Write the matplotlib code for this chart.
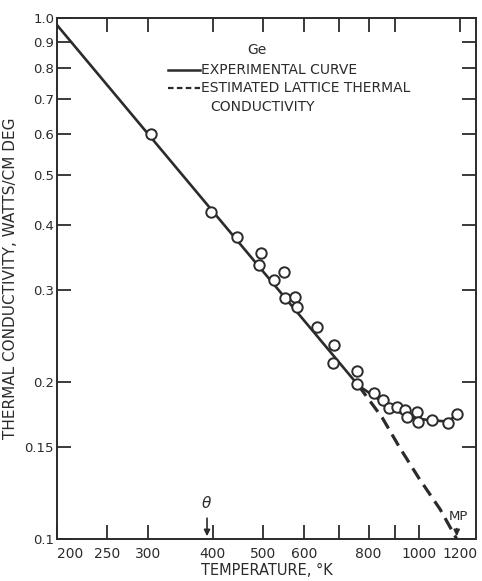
"""Ge thermal conductivity vs temperature (log-log)."""
import matplotlib
matplotlib.use("Agg")
import matplotlib.pyplot as plt
from matplotlib.ticker import FixedLocator, NullLocator

plt.rcParams["font.family"] = ["DejaVu Sans"]

# measured points (K, W/cm deg)
T_pts = [304, 397, 445, 495, 491, 549, 525, 551, 576, 581, 635, 685, 682,
         759, 759, 818, 852, 875, 906, 939, 948, 991, 995, 1059, 1137, 1184]
k_pts = [0.599, 0.424, 0.380, 0.354, 0.336, 0.325, 0.314, 0.290, 0.291, 0.279,
         0.255, 0.236, 0.218, 0.210, 0.198, 0.1906, 0.1848, 0.1784, 0.1796,
         0.177, 0.1714, 0.1753, 0.1677, 0.1692, 0.1668, 0.1735]

# experimental curve
T_exp = [200, 765, 820, 880, 950, 1000, 1060, 1140, 1184]
k_exp = [0.97, 0.197, 0.188, 0.179, 0.172, 0.170, 0.169, 0.168, 0.1735]

# estimated lattice thermal conductivity
T_lat = [765, 850, 918, 1000, 1100, 1184]
k_lat = [0.197, 0.171, 0.150, 0.131, 0.114, 0.100]

x_major = [200, 250, 300, 400, 500, 600, 800, 1000, 1200]
x_labels = ["200", "250", "300", "400", "500", "600", "800", "1000", "1200"]
x_minor = [700, 900]
x_top = [250, 300, 400, 500, 600, 700, 800, 900, 1200]
y_major = [0.1, 0.15, 0.2, 0.3, 0.4, 0.5, 0.6, 0.7, 0.8, 0.9, 1.0]
y_labels = ["0.1", "0.15", "0.2", "0.3", "0.4", "0.5", "0.6", "0.7", "0.8",
            "0.9", "1.0"]

theta_T = 390
mp_T = 1184

fig = plt.figure(figsize=(4.82, 5.81), dpi=100)
ax = fig.add_axes([0.118, 0.0723, 0.8695, 0.8967])
ax.set_xscale("log")
ax.set_yscale("log")
ax.set_xlim(200, 1290)
ax.set_ylim(0.1, 1.0)

ink = "#2b2b2b"
ax.plot(T_exp, k_exp, color=ink, lw=1.9, zorder=2)
ax.plot(T_lat, k_lat, color=ink, lw=2.3, ls=(0, (4, 2.2)), zorder=2)
ax.plot(T_pts, k_pts, "o", ms=7.5, mfc="white", mec=ink, mew=1.4, zorder=3)

for s in ax.spines.values():
    s.set_linewidth(1.4)
    s.set_color(ink)

ax.xaxis.set_major_locator(FixedLocator(x_major))
ax.xaxis.set_minor_locator(FixedLocator(x_minor))
ax.set_xticklabels(x_labels)
ax.xaxis.set_minor_formatter(plt.NullFormatter())
ax.yaxis.set_major_locator(FixedLocator(y_major))
ax.yaxis.set_minor_locator(NullLocator())
ax.set_yticklabels(y_labels)
ax.tick_params(which="both", direction="in", length=10, width=1.3,
               color=ink, labelcolor=ink)
ax.tick_params(axis="x", pad=6, labelsize=10)
ax.tick_params(axis="y", pad=2, right=True, labelsize=9.5)
# hide the 1200 bottom tick (MP arrow sits there)
ax.xaxis.get_major_ticks()[-1].tick1line.set_visible(False)
# nudge the 200 label right, clear of the 0.1 label
ax.get_xticklabels()[0].set_horizontalalignment("left")

# top ticks on their own axis
top = ax.secondary_xaxis("top")
top.xaxis.set_major_locator(FixedLocator(x_top))
top.xaxis.set_minor_locator(NullLocator())
top.tick_params(direction="in", length=10, width=1.3, color=ink,
                labeltop=False)
top.spines["top"].set_visible(False)

ax.set_xlabel("TEMPERATURE, °K", fontsize=10.5, color=ink, labelpad=1)
ax.set_ylabel("THERMAL CONDUCTIVITY, WATTS/CM DEG", fontsize=11,
              color=ink)
ax.yaxis.set_label_coords(-0.093, 0.5)

# key
ax.text(0.477, 0.939, "Ge", transform=ax.transAxes, fontsize=10,
        ha="center", va="center", color=ink)
ax.plot([0.265, 0.341], [0.900, 0.900], transform=ax.transAxes,
        color=ink, lw=1.8)
ax.text(0.344, 0.900, "EXPERIMENTAL CURVE", transform=ax.transAxes,
        fontsize=10, va="center", color=ink)
ax.plot([0.265, 0.341], [0.866, 0.866], transform=ax.transAxes,
        color=ink, lw=1.6, ls=(0, (2.5, 1.5)))
ax.text(0.344, 0.866, "ESTIMATED LATTICE THERMAL", transform=ax.transAxes,
        fontsize=10, va="center", color=ink)
ax.text(0.365, 0.829, "CONDUCTIVITY", transform=ax.transAxes,
        fontsize=10, va="center", color=ink)

# theta and MP markers
ax.annotate("", xy=(theta_T, 0.1), xytext=(theta_T, 0.111),
            arrowprops=dict(arrowstyle="-|>", color=ink, lw=1.2,
                            mutation_scale=9))
ax.text(theta_T, 0.117, r"$\theta$", fontsize=11, ha="center",
        va="center", color=ink)
ax.annotate("", xy=(mp_T, 0.1), xytext=(mp_T, 0.106),
            arrowprops=dict(arrowstyle="-|>", color=ink, lw=1.2,
                            mutation_scale=9))
ax.text(mp_T + 10, 0.1105, "MP", fontsize=9.5, ha="center", va="center",
        color=ink)

fig.savefig("out.png", dpi=100)
